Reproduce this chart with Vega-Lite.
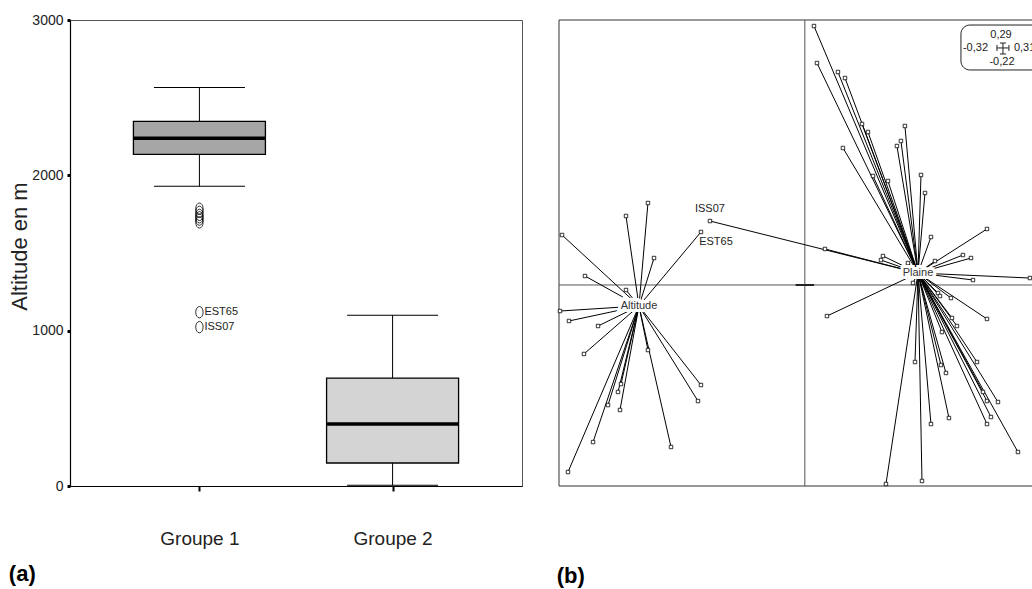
{
  "$schema": "https://vega.github.io/schema/vega-lite/v6.json",
  "background": "white",
  "padding": {"left": 8, "top": 12, "right": 0, "bottom": 0},
  "bounds": "flush",
  "spacing": 37,
  "config": {"font": "Liberation Sans", "view": {"stroke": null},
    "axisY": {"grid": false, "tickSize": 3, "tickWidth": 3, "tickColor": "black", "domainColor": "black", "domainWidth": 1.2, "labelFontSize": 14, "labelColor": "#222", "labelPadding": 4, "titleFontSize": 22, "titleFontWeight": "normal", "titleColor": "#222", "titlePadding": 0, "titleY": 226}
  },
  "datasets": {
    "boxes": [
      {"group": "Groupe 1", "lower": 1929, "q1": 2135, "median": 2238, "q3": 2347, "upper": 2566},
      {"group": "Groupe 2", "lower": 5, "q1": 148, "median": 399, "q3": 695, "upper": 1100}
    ],
    "outliers": [
      {"group": "Groupe 1", "value": 1785, "name": ""},
      {"group": "Groupe 1", "value": 1765, "name": ""},
      {"group": "Groupe 1", "value": 1745, "name": ""},
      {"group": "Groupe 1", "value": 1730, "name": ""},
      {"group": "Groupe 1", "value": 1715, "name": ""},
      {"group": "Groupe 1", "value": 1697, "name": ""},
      {"group": "Groupe 1", "value": 1119, "name": "EST65"},
      {"group": "Groupe 1", "value": 1023, "name": "ISS07"}
    ],
    "centroids": [
      {"grp": "Altitude", "cx": -0.2159, "cy": -0.023, "label": "Altitude"},
      {"grp": "Plaine", "cx": 0.1473, "cy": 0.0131, "label": "Plaine"}
    ],
    "scalebox": [
      {"top": "0,29", "left": "-0,32", "right": "0,31", "bottom": "-0,22"}
    ],
    "pts": [
      {"grp": "Altitude", "x": -0.2042, "y": 0.0897, "name": ""},
      {"grp": "Altitude", "x": -0.2328, "y": 0.0755, "name": ""},
      {"grp": "Altitude", "x": -0.3161, "y": 0.0547, "name": ""},
      {"grp": "Altitude", "x": -0.1352, "y": 0.058, "name": "EST65"},
      {"grp": "Altitude", "x": -0.1963, "y": 0.0295, "name": ""},
      {"grp": "Altitude", "x": -0.2862, "y": 0.0098, "name": ""},
      {"grp": "Altitude", "x": -0.2328, "y": -0.0055, "name": ""},
      {"grp": "Altitude", "x": -0.3187, "y": -0.0285, "name": ""},
      {"grp": "Altitude", "x": -0.307, "y": -0.0394, "name": ""},
      {"grp": "Altitude", "x": -0.2692, "y": -0.0449, "name": ""},
      {"grp": "Altitude", "x": -0.2875, "y": -0.0755, "name": ""},
      {"grp": "Altitude", "x": -0.2042, "y": -0.0712, "name": ""},
      {"grp": "Altitude", "x": -0.1352, "y": -0.1095, "name": ""},
      {"grp": "Altitude", "x": -0.1391, "y": -0.127, "name": ""},
      {"grp": "Altitude", "x": -0.2393, "y": -0.1084, "name": ""},
      {"grp": "Altitude", "x": -0.2432, "y": -0.1171, "name": ""},
      {"grp": "Altitude", "x": -0.2562, "y": -0.1314, "name": ""},
      {"grp": "Altitude", "x": -0.2406, "y": -0.1368, "name": ""},
      {"grp": "Altitude", "x": -0.2757, "y": -0.1719, "name": ""},
      {"grp": "Altitude", "x": -0.1742, "y": -0.1773, "name": ""},
      {"grp": "Altitude", "x": -0.3083, "y": -0.2047, "name": ""},
      {"grp": "Plaine", "x": -0.1235, "y": 0.07, "name": "ISS07"},
      {"grp": "Plaine", "x": 0.0119, "y": 0.2834, "name": ""},
      {"grp": "Plaine", "x": 0.0158, "y": 0.2429, "name": ""},
      {"grp": "Plaine", "x": 0.0431, "y": 0.2331, "name": ""},
      {"grp": "Plaine", "x": 0.0523, "y": 0.2265, "name": ""},
      {"grp": "Plaine", "x": 0.0744, "y": 0.1762, "name": ""},
      {"grp": "Plaine", "x": 0.0822, "y": 0.1674, "name": ""},
      {"grp": "Plaine", "x": 0.0496, "y": 0.1499, "name": ""},
      {"grp": "Plaine", "x": 0.1303, "y": 0.174, "name": ""},
      {"grp": "Plaine", "x": 0.1251, "y": 0.1576, "name": ""},
      {"grp": "Plaine", "x": 0.1199, "y": 0.1521, "name": ""},
      {"grp": "Plaine", "x": 0.0887, "y": 0.1193, "name": ""},
      {"grp": "Plaine", "x": 0.1082, "y": 0.1138, "name": ""},
      {"grp": "Plaine", "x": 0.1512, "y": 0.1204, "name": ""},
      {"grp": "Plaine", "x": 0.1564, "y": 0.1007, "name": ""},
      {"grp": "Plaine", "x": 0.2371, "y": 0.0613, "name": ""},
      {"grp": "Plaine", "x": 0.1642, "y": 0.0525, "name": ""},
      {"grp": "Plaine", "x": 0.0262, "y": 0.0394, "name": ""},
      {"grp": "Plaine", "x": 0.1017, "y": 0.0317, "name": ""},
      {"grp": "Plaine", "x": 0.0991, "y": 0.0273, "name": ""},
      {"grp": "Plaine", "x": 0.1342, "y": 0.024, "name": ""},
      {"grp": "Plaine", "x": 0.1694, "y": 0.0262, "name": ""},
      {"grp": "Plaine", "x": 0.2058, "y": 0.0328, "name": ""},
      {"grp": "Plaine", "x": 0.2163, "y": 0.0295, "name": ""},
      {"grp": "Plaine", "x": 0.2189, "y": 0.0054, "name": ""},
      {"grp": "Plaine", "x": 0.293, "y": 0.0076, "name": ""},
      {"grp": "Plaine", "x": 0.1408, "y": 0.0022, "name": ""},
      {"grp": "Plaine", "x": 0.0288, "y": -0.034, "name": ""},
      {"grp": "Plaine", "x": 0.1733, "y": -0.0088, "name": ""},
      {"grp": "Plaine", "x": 0.1759, "y": -0.0121, "name": ""},
      {"grp": "Plaine", "x": 0.1902, "y": -0.0143, "name": ""},
      {"grp": "Plaine", "x": 0.2371, "y": -0.0372, "name": ""},
      {"grp": "Plaine", "x": 0.1915, "y": -0.0361, "name": ""},
      {"grp": "Plaine", "x": 0.198, "y": -0.0449, "name": ""},
      {"grp": "Plaine", "x": 0.1785, "y": -0.0515, "name": ""},
      {"grp": "Plaine", "x": 0.1434, "y": -0.0843, "name": ""},
      {"grp": "Plaine", "x": 0.1772, "y": -0.0876, "name": ""},
      {"grp": "Plaine", "x": 0.1837, "y": -0.0963, "name": ""},
      {"grp": "Plaine", "x": 0.2241, "y": -0.0843, "name": ""},
      {"grp": "Plaine", "x": 0.2319, "y": -0.1171, "name": ""},
      {"grp": "Plaine", "x": 0.2371, "y": -0.127, "name": ""},
      {"grp": "Plaine", "x": 0.2514, "y": -0.1281, "name": ""},
      {"grp": "Plaine", "x": 0.2423, "y": -0.1445, "name": ""},
      {"grp": "Plaine", "x": 0.2371, "y": -0.1522, "name": ""},
      {"grp": "Plaine", "x": 0.1876, "y": -0.1456, "name": ""},
      {"grp": "Plaine", "x": 0.1642, "y": -0.1522, "name": ""},
      {"grp": "Plaine", "x": 0.2774, "y": -0.1828, "name": ""},
      {"grp": "Plaine", "x": 0.1525, "y": -0.2145, "name": ""},
      {"grp": "Plaine", "x": 0.1056, "y": -0.2178, "name": ""}
    ]
  },
  "hconcat": [
    {
      "width": 452,
      "height": 466,
      "view": {"stroke": "#555", "strokeWidth": 1},
      "title": {"text": "(a)", "orient": "bottom", "anchor": "start", "frame": "bounds", "fontSize": 22, "fontWeight": "bold", "offset": 16, "color": "black"},
      "encoding": {
        "x": {
          "field": "group", "type": "nominal",
          "scale": {"type": "point", "padding": 0.67, "domain": ["Groupe 1", "Groupe 2"]},
          "axis": {"title": null, "labelAngle": 0, "labelFontSize": 19, "labelColor": "#222", "labelPadding": 38, "tickSize": 5, "tickWidth": 2, "tickColor": "black", "domainColor": "black", "domainWidth": 1.2}
        }
      },
      "layer": [
        {
          "data": {"name": "boxes"},
          "mark": {"type": "rule", "color": "black", "strokeWidth": 1},
          "encoding": {
            "y": {"field": "lower", "type": "quantitative", "title": "Altitude en m", "scale": {"domain": [0, 3000], "nice": false, "zero": true}, "axis": {"values": [0, 1000, 2000, 3000], "format": "d"}},
            "y2": {"field": "upper"}
          }
        },
        {
          "data": {"name": "boxes"},
          "mark": {"type": "tick", "color": "black", "size": 91, "thickness": 1, "opacity": 1},
          "encoding": {"y": {"field": "lower", "type": "quantitative", "title": "Altitude en m", "axis": {"values": [0, 1000, 2000, 3000], "format": "d"}}}
        },
        {
          "data": {"name": "boxes"},
          "mark": {"type": "tick", "color": "black", "size": 91, "thickness": 1, "opacity": 1},
          "encoding": {"y": {"field": "upper", "type": "quantitative", "title": "Altitude en m", "axis": {"values": [0, 1000, 2000, 3000], "format": "d"}}}
        },
        {
          "data": {"name": "boxes"},
          "mark": {"type": "bar", "size": 132, "stroke": "black", "strokeWidth": 1.3, "opacity": 1},
          "encoding": {
            "y": {"field": "q1", "type": "quantitative", "title": "Altitude en m", "axis": {"values": [0, 1000, 2000, 3000], "format": "d"}},
            "y2": {"field": "q3"},
            "fill": {"field": "group", "type": "nominal", "scale": {"domain": ["Groupe 1", "Groupe 2"], "range": ["#a6a6a6", "#d4d4d4"]}, "legend": null}
          }
        },
        {
          "data": {"name": "boxes"},
          "mark": {"type": "tick", "color": "black", "size": 131, "thickness": 3.5, "opacity": 1},
          "encoding": {"y": {"field": "median", "type": "quantitative", "title": "Altitude en m", "axis": {"values": [0, 1000, 2000, 3000], "format": "d"}}}
        },
        {
          "data": {"name": "outliers"},
          "mark": {"type": "point", "shape": "M0,-1A0.65,1,0,1,1,0,1A0.65,1,0,1,1,0,-1Z", "size": 130, "filled": false, "stroke": "black", "strokeWidth": 0.8, "opacity": 1},
          "encoding": {"y": {"field": "value", "type": "quantitative", "title": "Altitude en m", "axis": {"values": [0, 1000, 2000, 3000], "format": "d"}}}
        },
        {
          "data": {"name": "outliers"},
          "mark": {"type": "text", "align": "left", "baseline": "middle", "dx": 5, "fontSize": 11, "color": "#222"},
          "encoding": {"y": {"field": "value", "type": "quantitative", "title": "Altitude en m", "axis": {"values": [0, 1000, 2000, 3000], "format": "d"}}, "text": {"field": "name"}}
        }
      ]
    },
    {
      "width": 473,
      "height": 466,
      "view": {"stroke": null},
      "title": {"text": "(b)", "orient": "bottom", "anchor": "start", "frame": "bounds", "fontSize": 22, "fontWeight": "bold", "offset": 79, "color": "black"},
      "data": {"name": "scalebox"},
      "layer": [
        {
          "mark": {"type": "rule", "color": "#333", "strokeWidth": 1},
          "encoding": {"y": {"datum": 0.29, "type": "quantitative", "scale": {"domain": [-0.22, 0.29], "nice": false, "zero": false}, "axis": null}}
        },
        {
          "mark": {"type": "rule", "color": "#333", "strokeWidth": 1},
          "encoding": {"y": {"datum": -0.22, "type": "quantitative", "axis": null}}
        },
        {
          "mark": {"type": "rule", "color": "#333", "strokeWidth": 1},
          "encoding": {"x": {"datum": -0.32, "type": "quantitative", "scale": {"domain": [-0.32, 0.2957], "nice": false, "zero": false}, "axis": null}}
        },
        {
          "mark": {"type": "rule", "color": "#555", "strokeWidth": 1},
          "encoding": {"y": {"datum": 0, "type": "quantitative", "axis": null}}
        },
        {
          "mark": {"type": "rule", "color": "#555", "strokeWidth": 1},
          "encoding": {"x": {"datum": 0, "type": "quantitative", "axis": null}}
        },
        {
          "mark": {"type": "rule", "color": "#222", "strokeWidth": 2},
          "encoding": {"x": {"datum": -0.012, "type": "quantitative", "axis": null}, "x2": {"datum": 0.012}, "y": {"datum": 0, "type": "quantitative", "axis": null}}
        },
        {
          "data": {"name": "pts"},
          "transform": [{"lookup": "grp", "from": {"data": {"name": "centroids"}, "key": "grp", "fields": ["cx", "cy"]}}],
          "mark": {"type": "rule", "color": "black", "strokeWidth": 1},
          "encoding": {
            "x": {"field": "x", "type": "quantitative", "axis": null},
            "y": {"field": "y", "type": "quantitative", "axis": null},
            "x2": {"field": "cx"},
            "y2": {"field": "cy"}
          }
        },
        {
          "data": {"name": "pts"},
          "mark": {"type": "point", "shape": "square", "size": 12, "filled": true, "fill": "white", "stroke": "black", "strokeWidth": 0.8, "opacity": 1},
          "encoding": {
            "x": {"field": "x", "type": "quantitative", "axis": null},
            "y": {"field": "y", "type": "quantitative", "axis": null}
          }
        },
        {
          "data": {"name": "pts"},
          "transform": [{"filter": "datum.name == 'ISS07'"}],
          "mark": {"type": "text", "align": "center", "baseline": "middle", "dy": -12, "fontSize": 11, "fill": "#222"},
          "encoding": {
            "x": {"field": "x", "type": "quantitative", "axis": null},
            "y": {"field": "y", "type": "quantitative", "axis": null},
            "text": {"field": "name"}
          }
        },
        {
          "data": {"name": "pts"},
          "transform": [{"filter": "datum.name == 'EST65'"}],
          "mark": {"type": "text", "align": "center", "baseline": "middle", "dx": 15, "dy": 10, "fontSize": 11, "fill": "#222"},
          "encoding": {
            "x": {"field": "x", "type": "quantitative", "axis": null},
            "y": {"field": "y", "type": "quantitative", "axis": null},
            "text": {"field": "name"}
          }
        },
        {
          "data": {"name": "centroids"},
          "mark": {"type": "text", "align": "center", "baseline": "middle", "fontSize": 11, "fill": "white", "stroke": "white", "strokeWidth": 6},
          "encoding": {
            "x": {"field": "cx", "type": "quantitative", "axis": null},
            "y": {"field": "cy", "type": "quantitative", "axis": null},
            "text": {"field": "label"}
          }
        },
        {
          "data": {"name": "centroids"},
          "mark": {"type": "text", "align": "center", "baseline": "middle", "fontSize": 11, "fill": "#333"},
          "encoding": {
            "x": {"field": "cx", "type": "quantitative", "axis": null},
            "y": {"field": "cy", "type": "quantitative", "axis": null},
            "text": {"field": "label"}
          }
        },
        {
          "mark": {"type": "rect", "cornerRadius": 9, "fill": "white", "stroke": "#222", "strokeWidth": 1, "clip": true},
          "encoding": {
            "x": {"datum": 0.2032, "type": "quantitative", "axis": null},
            "x2": {"datum": 0.33},
            "y": {"datum": 0.2845, "type": "quantitative", "axis": null},
            "y2": {"datum": 0.2353}
          }
        },
        {
          "mark": {"type": "text", "align": "center", "baseline": "middle", "fontSize": 11, "fill": "#222"},
          "encoding": {"x": {"datum": 0.2553, "type": "quantitative", "axis": null}, "y": {"datum": 0.2736, "type": "quantitative", "axis": null}, "text": {"field": "top"}}
        },
        {
          "mark": {"type": "text", "align": "center", "baseline": "middle", "fontSize": 11, "fill": "#222"},
          "encoding": {"x": {"datum": 0.2566, "type": "quantitative", "axis": null}, "y": {"datum": 0.244, "type": "quantitative", "axis": null}, "text": {"field": "bottom"}}
        },
        {
          "mark": {"type": "text", "align": "left", "baseline": "middle", "fontSize": 11, "fill": "#222"},
          "encoding": {"x": {"datum": 0.2058, "type": "quantitative", "axis": null}, "y": {"datum": 0.2594, "type": "quantitative", "axis": null}, "text": {"field": "left"}}
        },
        {
          "mark": {"type": "text", "align": "left", "baseline": "middle", "fontSize": 11, "fill": "#222", "clip": true},
          "encoding": {"x": {"datum": 0.2722, "type": "quantitative", "axis": null}, "y": {"datum": 0.2594, "type": "quantitative", "axis": null}, "text": {"field": "right"}}
        },
        {
          "mark": {"type": "rule", "color": "#222", "strokeWidth": 1},
          "encoding": {"x": {"datum": 0.2501, "type": "quantitative", "axis": null}, "x2": {"datum": 0.2657}, "y": {"datum": 0.2594, "type": "quantitative", "axis": null}}
        },
        {
          "mark": {"type": "rule", "color": "#222", "strokeWidth": 1},
          "encoding": {"x": {"datum": 0.2579, "type": "quantitative", "axis": null}, "y": {"datum": 0.2648, "type": "quantitative", "axis": null}, "y2": {"datum": 0.2528}}
        },
        {
          "mark": {"type": "rule", "color": "#222", "strokeWidth": 1},
          "encoding": {"x": {"datum": 0.2501, "type": "quantitative", "axis": null}, "y": {"datum": 0.2627, "type": "quantitative", "axis": null}, "y2": {"datum": 0.2561}}
        },
        {
          "mark": {"type": "rule", "color": "#222", "strokeWidth": 1},
          "encoding": {"x": {"datum": 0.2657, "type": "quantitative", "axis": null}, "y": {"datum": 0.2627, "type": "quantitative", "axis": null}, "y2": {"datum": 0.2561}}
        },
        {
          "mark": {"type": "rule", "color": "#222", "strokeWidth": 1},
          "encoding": {"x": {"datum": 0.254, "type": "quantitative", "axis": null}, "x2": {"datum": 0.2618}, "y": {"datum": 0.2648, "type": "quantitative", "axis": null}}
        },
        {
          "mark": {"type": "rule", "color": "#222", "strokeWidth": 1},
          "encoding": {"x": {"datum": 0.254, "type": "quantitative", "axis": null}, "x2": {"datum": 0.2618}, "y": {"datum": 0.2528, "type": "quantitative", "axis": null}}
        }
      ]
    }
  ]
}
